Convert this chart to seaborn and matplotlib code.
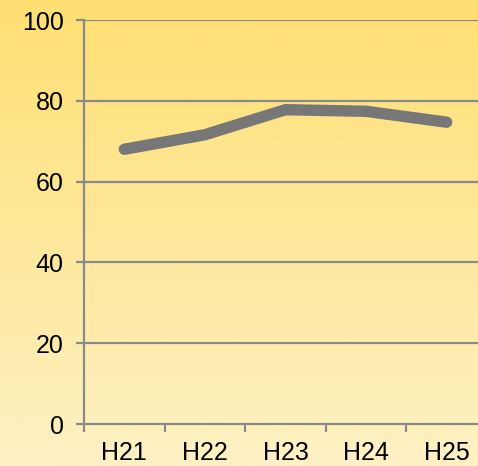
import numpy as np
import pandas as pd
import matplotlib
matplotlib.use("Agg")
import matplotlib.pyplot as plt
import seaborn as sns
from matplotlib.colors import LinearSegmentedColormap
from matplotlib.ticker import FixedLocator, NullFormatter

years = ["H21", "H22", "H23", "H24", "H25"]
rates = [68, 71.6, 77.8, 77.4, 74.7]
y_ticks = [0, 20, 40, 60, 80, 100]

sns.set_theme(style="white")
plt.rcParams["font.family"] = ["Liberation Sans", "DejaVu Sans"]

W, H = 478, 466
fig = plt.figure(figsize=(W / 100, H / 100), dpi=100)

# warm vertical gradient behind everything
bg = fig.add_axes([0, 0, 1, 1], zorder=-10)
grad = np.linspace(0, 1, 256).reshape(-1, 1)
cmap = LinearSegmentedColormap.from_list("warm", ["#FEDF72", "#FEF1C4"])
bg.imshow(grad, aspect="auto", cmap=cmap, extent=[0, 1, 0, 1], origin="upper")
bg.set_axis_off()

left, right = 84 / W, 487 / W
bottom, top = 1 - 424 / H, 1 - 20 / H
ax = fig.add_axes([left, bottom, right - left, top - bottom])
ax.set_facecolor("none")

df = pd.DataFrame({"year": years, "rate": rates})
sns.lineplot(data=df, x="year", y="rate", ax=ax, color="#777777",
             linewidth=8.2, solid_capstyle="round", solid_joinstyle="miter",
             clip_on=False, zorder=3)

ax.set_xlim(-0.5, len(years) - 0.5)
ax.set_ylim(0, 100)
ax.set_xlabel("")
ax.set_ylabel("")

grid_c = "#8A8A8A"
ax.set_yticks(y_ticks)
ax.set_yticklabels([str(v) for v in y_ticks])
for v in y_ticks[1:]:
    ax.axhline(v, color=grid_c, linewidth=1.6, zorder=1)

# category boundaries carry the tick marks, centres carry the labels
ax.xaxis.set_major_locator(FixedLocator(np.arange(-0.5, len(years), 1.0)))
ax.xaxis.set_major_formatter(NullFormatter())
ax.xaxis.set_minor_locator(FixedLocator(np.arange(len(years))))
ax.set_xticklabels(years, minor=True)
ax.tick_params(axis="x", which="major", length=5.5, width=1.6, color=grid_c,
               direction="out", bottom=True)
ax.tick_params(axis="x", which="minor", length=0, pad=12, labelsize=18,
               labelcolor="black", bottom=True)
ax.tick_params(axis="y", length=5.5, width=1.6, color=grid_c, direction="out",
               pad=9, labelsize=18, labelcolor="black", left=True)

for side in ["top", "right"]:
    ax.spines[side].set_visible(False)
for side in ["left", "bottom"]:
    ax.spines[side].set_color(grid_c)
    ax.spines[side].set_linewidth(1.6)

fig.savefig("out.png", dpi=100)
